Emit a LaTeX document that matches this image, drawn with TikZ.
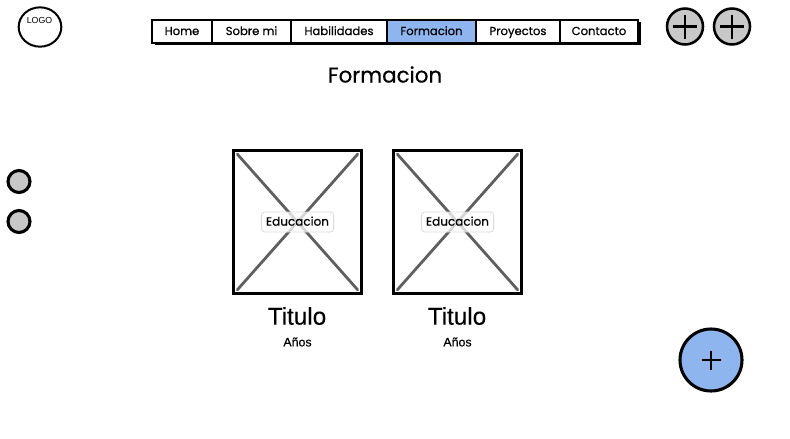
\documentclass[tikz,border=0pt]{standalone}
\usepackage{fontspec}
\usetikzlibrary{shapes.geometric}
\setmainfont{Poppins}[RawFeature={embolden=0.6}]
\newfontfamily\arialf{Liberation Sans}[RawFeature={embolden=0.4}]
\newfontfamily\arialthin{Liberation Sans}
\definecolor{bluef}{HTML}{8FB5EE}
\definecolor{grayf}{HTML}{C8C8C8}
\definecolor{crossc}{HTML}{5F5F5F}
\begin{document}
\begin{tikzpicture}[x=0.75pt,y=-0.75pt,
  navitem/.style={draw=black,line width=1.5pt,minimum height=17.6pt,inner sep=0pt,font=\fontsize{8.7}{11}\selectfont,anchor=north west,fill=white,text height=6.5pt,text depth=0.8pt},
  plus/.style={line width=1.6pt,black},
  roundbtn/.style={circle,draw=black,line width=1.9pt,fill=grayf,inner sep=0pt,minimum size=#1*0.75pt},
  imgbox/.style={draw=black,line width=1.8pt,fill=white,minimum width=96pt,minimum height=107.5pt,inner sep=0pt},
  xline/.style={crossc,line width=2.1pt,line cap=round},
  lbl/.style={draw=black!14,rounded corners=2.5pt,fill=white,fill opacity=0.75,text opacity=1,line width=0.6pt,inner xsep=3.5pt,inner ysep=0pt,minimum height=15pt,font=\fontsize{9}{11}\selectfont,text height=6.5pt,text depth=1pt},
  titlet/.style={font=\arialf\fontsize{18.2}{20}\selectfont},
  subt/.style={font=\arialf\fontsize{9.3}{10}\selectfont}]
\useasboundingbox (0,0) rectangle (790,439);
\fill[white] (0,0) rectangle (790,439);
% logo
\node[ellipse,draw=black,line width=1.5pt,minimum width=32pt,minimum height=29.5pt,inner sep=0pt] (logo) at (40,27) {};
\node[font=\arialthin\fontsize{6.6}{8}\selectfont,inner sep=0pt] (logot) at (39.5,20.5) {LOGO};
% nav shadow
\fill[black] (155,22) rectangle (640.5,44.5);
\node[navitem,minimum width=45pt] (home) at (151,18.5) {Home};
\node[navitem,minimum width=59.25pt] (sobre) at (211,18.5) {Sobre mi};
\node[navitem,minimum width=72pt] (hab) at (290,18.5) {Habilidades};
\node[navitem,minimum width=66.75pt,fill=bluef] (form) at (386,18.5) {Formacion};
\node[navitem,minimum width=63pt] (proy) at (475,18.5) {Proyectos};
\node[navitem,minimum width=58.5pt] (cont) at (559,18.5) {Contacto};
% top buttons
\node[roundbtn=36] (b1) at (685,26.5) {};
\node[roundbtn=36] (b2) at (732,26.5) {};
\draw[plus] (b1.center) +(-12,0) -- +(12,0) (b1.center) +(0,-12) -- +(0,12);
\draw[plus] (b2.center) +(-12,0) -- +(12,0) (b2.center) +(0,-12) -- +(0,12);
% heading
\node[font=\fontsize{16}{20}\selectfont,inner sep=0pt] (head) at (385,74.5) {Formacion};
% side
\node[roundbtn=22,line width=2.3pt] (s1) at (19,181.5) {};
\node[roundbtn=22,line width=2.3pt] (s2) at (19,221.5) {};
% cards
\node[imgbox] (c1) at (297.5,222) {};
\node[imgbox] (c2) at (457.5,222) {};
\foreach \c in {c1,c2}{
  \draw[xline] ([shift={(5,5)}]\c.north west) -- ([shift={(-5,-5)}]\c.south east);
  \draw[xline] ([shift={(-5,5)}]\c.north east) -- ([shift={(5,-5)}]\c.south west);
}
\node[lbl] (l1) at (297.5,222) {Educacion};
\node[lbl] (l2) at (457.5,222) {Educacion};
\node[titlet,inner sep=0pt] (t1) at (297,316) {Titulo};
\node[titlet,inner sep=0pt] (t2) at (457,316) {Titulo};
\node[subt,inner sep=0pt] (a1) at (297.5,342) {Años};
\node[subt,inner sep=0pt] (a2) at (457.5,342) {Años};
% fab
\node[roundbtn=62,fill=bluef,line width=2.3pt] (fab) at (711,360) {};
\draw[plus] (fab.center) +(-9.5,0) -- +(9.5,0) (fab.center) +(0,-9.5) -- +(0,9.5);
\end{tikzpicture}
\end{document}
